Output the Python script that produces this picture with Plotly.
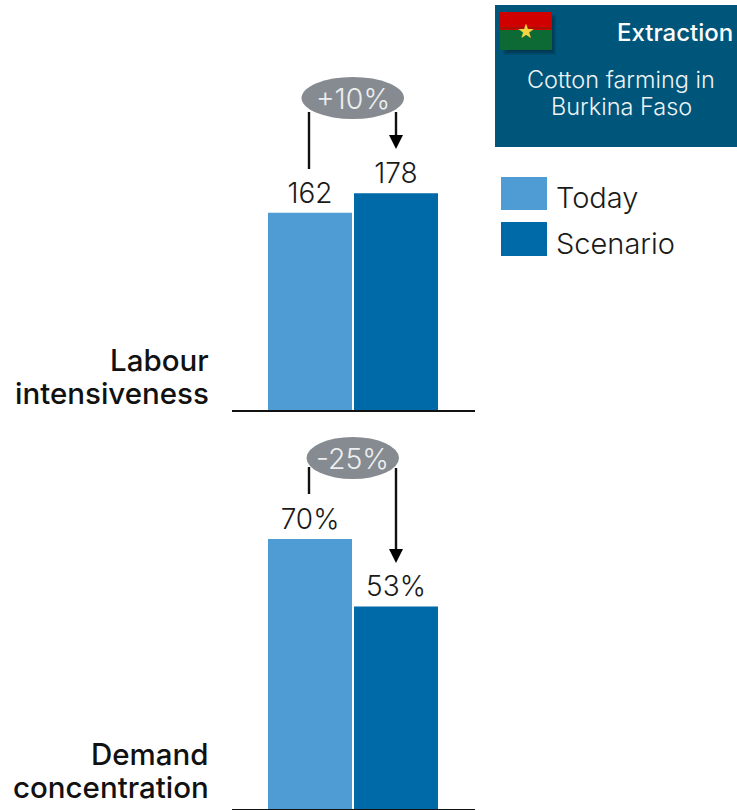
import plotly.graph_objects as go

W, H = 737, 810
categories = ["Today", "Scenario"]
labour_values = [162, 178]
labour_labels = ["162", "178"]
demand_values = [70, 52.5]
demand_labels = ["70%", "53%"]
bar_colors = ["#4f9bd3", "#0069a8"]
panel_names = [["Labour", "intensiveness"], ["Demand", "concentration"]]
changes = ["+10%", "-25%"]
LIGHT = "Inter"
TEXT = "#1a1a1a"


def fx(x):
    return x / W


def fy(y):
    return 1 - y / H


fig = go.Figure()
for vals, labs, ax in [(labour_values, labour_labels, ""), (demand_values, demand_labels, "2")]:
    fig.add_trace(go.Bar(
        x=categories, y=vals, text=labs, textposition="outside", cliponaxis=False,
        width=84 / 86, marker=dict(color=bar_colors, line=dict(width=0)),
        textfont=dict(family=LIGHT, size=28, color=TEXT, weight=300),
        showlegend=False, hoverinfo="skip", xaxis="x" + ax, yaxis="y" + ax,
    ))

x_range = [-78 / 86, 1 + 79 / 86]
xstyle = dict(type="category", categoryorder="array", categoryarray=categories, range=x_range,
              showticklabels=False, ticks="", showgrid=False, zeroline=False,
              showline=True, linecolor="#111111", linewidth=1.5)
ystyle = dict(visible=False, showgrid=False, zeroline=False, fixedrange=True)
fig.update_layout(
    width=W, height=H, margin=dict(l=0, r=0, t=0, b=0), autosize=False,
    paper_bgcolor="white", plot_bgcolor="rgba(0,0,0,0)", barmode="overlay",
    uniformtext=dict(mode=False),
    xaxis=dict(domain=[fx(232), fx(475)], anchor="y", **xstyle),
    yaxis=dict(domain=[fy(410), fy(60)], range=[0, 350 / 1.218], **ystyle),
    xaxis2=dict(domain=[fx(232), fx(475)], anchor="y2", **xstyle),
    yaxis2=dict(domain=[fy(809), fy(430)], range=[0, 379 / 3.858], **ystyle),
)

shapes = []
ann = []


def rect(x0, y0, x1, y1, color, **kw):
    shapes.append(dict(type="rect", xref="paper", yref="paper", x0=fx(x0), x1=fx(x1),
                       y0=fy(y0), y1=fy(y1), fillcolor=color, line=dict(width=0), **kw))


def text(x, y, s, size, anchor="center", color=TEXT, weight=300, family=LIGHT):
    ann.append(dict(xref="paper", yref="paper", x=fx(x), y=fy(y), text=s, showarrow=False,
                    xanchor=anchor, yanchor="middle",
                    font=dict(family=family, size=size, color=color, weight=weight)))


def vline(x, y0, y1):
    shapes.append(dict(type="line", xref="paper", yref="paper", x0=fx(x), x1=fx(x),
                       y0=fy(y0), y1=fy(y1), line=dict(color="#111111", width=2.4)))


def head(x, tip):
    shapes.append(dict(type="path", xref="paper", yref="paper",
                       path=f"M {fx(x-7)} {fy(tip-14)} L {fx(x+7)} {fy(tip-14)} L {fx(x)} {fy(tip)} Z",
                       fillcolor="#000000", line=dict(width=0)))


# banner
rect(495, 5, 737, 147, "#00567a")
for i in range(5):
    rect(503 + i, 15 + i, 556 - i, 55 - i, "rgba(0,30,50,0.14)")
rect(500, 12, 552, 30, "#d00000")
rect(500, 30, 552, 50, "#0e6a35")
rect(500, 27, 552, 29, "rgba(90,50,0,0.35)")
text(525.5, 31.5, "★", 20, color="#f6d340", family="DejaVu Sans", weight=400)
text(735, 32, "Extraction", 24, anchor="right", color="white", weight=500)
text(621, 79, "Cotton farming in", 23.5, color="#eef3f6")
text(621, 107, "Burkina Faso", 23.5, color="#eef3f6")

# legend
rect(501, 177, 547, 210, bar_colors[0])
rect(501, 222, 547, 256, bar_colors[1])
text(554, 197, categories[0], 29, anchor="left")
text(554, 243, categories[1], 29, anchor="left")

# panel names
text(211, 360, panel_names[0][0], 29.5, anchor="right", color="#111111", weight=500)
text(211, 393, panel_names[0][1], 29.5, anchor="right", color="#111111", weight=500)
text(211, 754, panel_names[1][0], 29.5, anchor="right", color="#111111", weight=500)
text(211, 787, panel_names[1][1], 29.5, anchor="right", color="#111111", weight=500)

# change callouts
vline(309, 112, 169)
vline(396, 112, 136)
head(396, 149)
vline(309, 467, 494)
vline(396, 468, 549)
head(396, 563)
for (x0, x1, y0, y1), s in zip([(301.5, 404, 77, 119), (306.5, 399, 437, 479)], changes):
    shapes.append(dict(type="circle", xref="paper", yref="paper", x0=fx(x0), x1=fx(x1),
                       y0=fy(y0), y1=fy(y1), fillcolor="#858b90", line=dict(width=0)))
    text((x0 + x1) / 2, (y0 + y1) / 2, s, 28.5, color="#eceeef")

fig.update_layout(shapes=shapes, annotations=ann)
fig.write_html("out.html", config=dict(displayModeBar=False),
               post_script="document.body.style.margin='0';")
